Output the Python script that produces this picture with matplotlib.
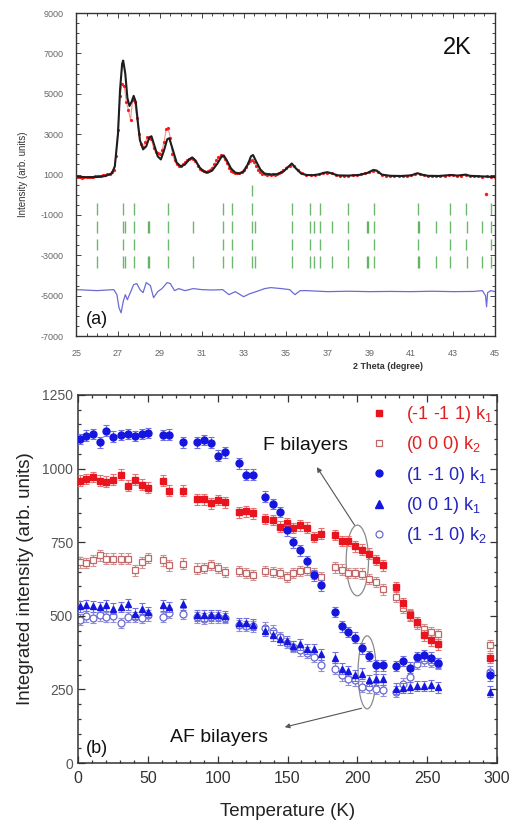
import numpy as np
import matplotlib.pyplot as plt
from matplotlib.lines import Line2D
from matplotlib.patches import Ellipse
from matplotlib.ticker import MultipleLocator

plt.rcParams['font.family'] = ['Liberation Sans', 'DejaVu Sans']
plt.rcParams['mathtext.fontset'] = 'custom'
plt.rcParams['mathtext.rm'] = 'Liberation Sans'
plt.rcParams['axes.unicode_minus'] = False

# ---------------- (a) powder pattern at 2 K ----------------
# observed intensity, 0.1 deg steps from 25.0 to 34.9
obs_fine = [
    880, 860, 870, 850, 860, 870, 880, 880, 900, 920,
    910, 940, 950, 980, 1000, 1010, 1050, 1120, 1250, 1900,
    3200, 4900, 5500, 5400, 4600, 4200, 3700, 4700, 4600, 3800,
    3000, 2500, 2350, 2600, 2850, 2800, 2750, 2300, 2100, 2050,
    2000, 2200, 2600, 3250, 3300, 2800, 2000, 1700, 1500, 1450,
    1450, 1500, 1600, 1700, 1750, 1800, 1780, 1650, 1450, 1300,
    1220, 1180, 1150, 1180, 1250, 1350, 1500, 1700, 1850, 1950,
    1900, 1750, 1550, 1350, 1200, 1150, 1100, 1080, 1100, 1150,
    1250, 1400, 1550, 1650, 1700, 1600, 1450, 1250, 1120, 1050,
    1030, 1000, 1010, 990, 1010, 1000, 1030, 1080, 1150, 1250,
]
# observed intensity, 0.2 deg steps from 35.0 to 45.0
obs_coarse = [
    1350, 1450, 1420, 1250, 1080, 1000, 960, 980, 1020, 1060,
    1100, 1060, 980, 940, 930, 950, 960, 980, 1010, 1060,
    1120, 1180, 1120, 1000, 950, 930, 920, 940, 930, 950,
    980, 1040, 1020, 960, 930, 920, 940, 920, 930, 960,
    970, 940, 950, 980, 940, 920, 930, 900, 920, 880,
    860,
]
tth_fine = 25.0 + 0.1 * np.arange(len(obs_fine))
tth_coarse = 35.0 + 0.2 * np.arange(len(obs_coarse))
outlier_tth = [44.55]
outlier_int = [50]

# calculated profile
calc_tth = [25.0, 25.5, 26.0, 26.4, 26.7, 26.85, 27.0, 27.1, 27.2, 27.25, 27.35, 27.45,
            27.55, 27.65, 27.75, 27.85, 27.95, 28.05, 28.2, 28.35, 28.5, 28.6, 28.75,
            28.9, 29.05, 29.2, 29.35, 29.45, 29.6, 29.8, 30.0, 30.2, 30.4, 30.55, 30.7,
            30.9, 31.1, 31.3, 31.5, 31.75, 31.95, 32.05, 32.2, 32.4, 32.6, 32.8, 33.0,
            33.2, 33.35, 33.45, 33.6, 33.8, 34.0, 34.3, 34.6, 34.9, 35.15, 35.3, 35.5,
            35.75, 36.0, 36.3, 36.6, 36.8, 37.0, 37.2, 37.5, 38.0, 38.5, 38.9, 39.2,
            39.35, 39.6, 40.0, 40.5, 41.0, 41.3, 41.5, 41.8, 42.3, 42.9, 43.2, 43.6,
            43.8, 44.2, 44.6, 45.0]
calc_int = [900, 870, 880, 930, 1050, 1400, 3000, 5200, 6500, 6650, 6000, 4800,
            4400, 4600, 4900, 4600, 3600, 2700, 2250, 2400, 2850, 2900, 2400,
            1900, 1750, 2200, 2750, 2800, 2300, 1600, 1400, 1500, 1750, 1850, 1700,
            1350, 1150, 1100, 1200, 1550, 1900, 1950, 1700, 1300, 1100, 1050, 1150,
            1500, 1900, 1970, 1650, 1250, 1050, 1000, 1020, 1150, 1400, 1550, 1300,
            1050, 980, 970, 1010, 1080, 1120, 1060, 960, 950, 980, 1080, 1230,
            1200, 1000, 940, 930, 960, 1070, 1000, 940, 930, 980, 950, 1000,
            940, 920, 900, 880]

# difference curve
diff_tth = [25.0, 26.0, 26.8, 26.95, 27.05, 27.15, 27.25, 27.35, 27.45, 27.55, 27.75,
            27.9, 28.05, 28.2, 28.35, 28.55, 28.7, 28.9, 29.1, 29.35, 29.5, 29.7,
            29.9, 30.2, 30.6, 31.0, 31.5, 32.0, 32.3, 32.6, 33.0, 33.3, 33.6, 34.0,
            34.3, 34.8, 35.2, 35.45, 35.7, 36.0, 37.0, 38.0, 39.0, 40.0, 41.0, 42.0,
            43.0, 44.0, 44.4, 44.55, 44.6, 44.65, 44.8, 45.0]
diff_int = [-4700, -4750, -4700, -4950, -5600, -5850, -5300, -4950, -5200, -4950, -4450,
            -4400, -4700, -4850, -4350, -4500, -5100, -4800, -4650, -4350, -4400, -4750,
            -4650, -4750, -4650, -4700, -4720, -4700, -4950, -4800, -5050, -4900, -4800, -4650,
            -4600, -4650, -4700, -4950, -4750, -4750, -4800, -4780, -4800, -4790, -4800, -4780,
            -4800, -4790, -4750, -5000, -5550, -4850, -4750, -4800]

# Bragg reflection positions for the two magnetic/nuclear phases
bragg_a = [26.02, 27.23, 27.75, 29.41, 32.0, 32.46, 33.42, 35.32, 36.18, 36.66,
           37.97, 39.22, 41.34, 42.87, 43.62, 44.8]
bragg_b = [26.02, 27.23, 27.35, 27.75, 28.42, 28.5, 29.41, 30.57, 32.0, 32.46, 33.42,
           33.53, 35.32, 36.18, 36.34, 36.66, 37.23, 37.97, 38.87, 38.95, 39.22, 41.32,
           41.38, 42.17, 42.87, 43.66, 44.39, 44.8]
bragg_top = [33.42]
bragg_rows = [200, -700, -1600, -2450, -3330]

# ---------------- (b) integrated intensities ----------------
temp = [1.5, 5.5, 10.5, 15.5, 20, 25, 30.5, 35.5, 40.5, 45.5, 50, 60.5, 65.5, 75.5,
        85, 90, 95.5, 100.5, 105, 115, 120, 125, 134, 139.5, 144.5, 149.5, 154, 159,
        164, 169, 174, 184, 189, 193.5, 198.5, 203.5, 208.5, 213.5, 218.5, 228, 233,
        238, 243, 248, 253, 258, 295]
red_k1 = [959, 965, 971, 959, 956, 962, 979, 942, 962, 945, 935, 959, 925, 925,
          896, 896, 882, 893, 885, 851, 855, 848, 829, 826, 803, 815, 798, 807,
          799, 767, 779, 775, 754, 754, 736, 725, 711, 690, 671, 598, 543,
          502, 479, 434, 417, 403, 357]
zero_k2 = [682, 679, 688, 705, 694, 694, 694, 694, 654, 682, 697, 688, 671, 677,
           660, 662, 673, 663, 649, 652, 645, 639, 652, 649, 645, 632, 645, 652,
           657, 643, 632, 665, 657, 645, 645, 643, 625, 615, 590, 565, 528,
           505, 472, 455, 445, 438, 400]
blue_k1 = [1101, 1112, 1118, 1089, 1129, 1108, 1114, 1118, 1111, 1118, 1121, 1114, 1115, 1089,
           1089, 1097, 1088, 1044, 1055, 1018, 979, 979, 905, 880, 852, 790, 750, 722,
           685, 637, 603, 513, 464, 445, 426, 389, 363, 332, 332, 329, 347,
           324, 360, 366, 358, 340, 298]
tri_k1 = [532, 536, 532, 530, 536, 524, 530, 539, 507, 524, 513, 536, 530, 539,
          502, 502, 502, 502, 498, 476, 474, 470, 448, 434, 420, 414, 397, 403,
          387, 387, 369, 358, 321, 313, 298, 304, 281, 284, 284, 253, 255,
          257, 261, 261, 264, 257, 242]
open_k2 = [487, 498, 494, 502, 496, 498, 476, 496, 496, 494, 502, 496, 509, 507,
           495, 490, 495, 495, 492, 468, 466, 464, 460, 450, 428, 408, 395, 383,
           375, 360, 332, 321, 298, 284, 281, 259, 257, 253, 247, 242, 270,
           293, 338, 349, 343, 338, 310]
labels = ['(-1 -1 1) k$_1$', '(0 0 0) k$_2$', '(1 -1 0) k$_1$', '(0 0 1) k$_1$', '(1 -1 0) k$_2$']

fig = plt.figure(figsize=(5.21, 8.21), dpi=100)

# ---- panel (a)
ax1 = fig.add_axes([0.146, 0.5907, 0.804, 0.3933])
for i, y0 in enumerate(bragg_rows):
    pos = bragg_top if i == 0 else (bragg_a if i % 2 == 1 else bragg_b)
    ax1.vlines(pos, y0 - 280, y0 + 280, color='#2e9a2e', lw=1.0, alpha=0.7)
# faint trace under the observed points so the scan reads as a dense band
ax1.plot(tth_fine, obs_fine, color='#ff4040', lw=0.8, alpha=0.6)
ax1.plot(tth_coarse, obs_coarse, color='#ff4040', lw=0.8, alpha=0.6)
ax1.plot(tth_fine, obs_fine, 'o', color='#ff1a1a', ms=2.3, mew=0)
ax1.plot(tth_coarse, obs_coarse, 'o', color='#ff1a1a', ms=2.3, mew=0)
ax1.plot(outlier_tth, outlier_int, 'o', color='#ff1a1a', ms=2.5, mew=0)
ax1.plot(calc_tth, calc_int, color='#1e1e1e', lw=1.5)
ax1.plot(diff_tth, diff_int, color='#6b6bd8', lw=0.9)
ax1.set_xlim(25, 45)
ax1.set_ylim(-7000, 9000)
ax1.xaxis.set_major_locator(MultipleLocator(2, offset=1))
ax1.xaxis.set_minor_locator(MultipleLocator(0.5))
ax1.yaxis.set_major_locator(MultipleLocator(2000, offset=1000))
ax1.yaxis.set_minor_locator(MultipleLocator(500))
ax1.tick_params(which='both', direction='in', top=True, right=True, labelsize=6.5,
                labelcolor='#666666', color='#444444', width=0.7)
ax1.tick_params(which='major', length=3.5)
ax1.tick_params(which='minor', length=2)
ax1.tick_params(axis='x', pad=9)
ax1.tick_params(axis='y', pad=9)
for s in ax1.spines.values():
    s.set_color('#333333')
    s.set_linewidth(1.0)
ax1.set_ylabel('Intensity (arb. units)', fontsize=7, color='#333333', labelpad=9)
ax1.text(0.745, -0.095, '2 Theta (degree)', transform=ax1.transAxes, ha='center',
         va='center', fontsize=6.5, fontweight='bold', color='#333333')
ax1.text(43.2, 7250, '2K', fontsize=17, ha='center', va='center', color='#111111')
ax1.text(26.0, -6200, '(a)', fontsize=13, ha='center', va='center', color='#111111')

# ---- panel (b)
ax2 = fig.add_axes([0.1497, 0.0706, 0.8043, 0.4483])
series = [
    (red_k1, dict(marker='s', color='#e8141e', mfc='#e8141e', mec='#e8141e', ms=4.3), '#e87070', 3),
    (zero_k2, dict(marker='s', color='#c06868', mfc='white', mec='#c06868', ms=4.3, mew=0.9), '#d09090', 2),
    (blue_k1, dict(marker='o', color='#1515e0', mfc='#1515e0', mec='#1515e0', ms=5), '#7070e0', 4),
    (open_k2, dict(marker='o', color='#6a6ad0', mfc='white', mec='#6a6ad0', ms=5, mew=0.9), '#9090d8', 1),
    (tri_k1, dict(marker='^', color='#1515e0', mfc='#1515e0', mec='#1515e0', ms=5), '#7070e0', 5),
]
for vals, style, ecol, z in series:
    ax2.errorbar(temp, vals, yerr=18, fmt='none', ecolor=ecol, elinewidth=0.8,
                 capsize=2, capthick=0.8, zorder=z)
    ax2.plot(temp, vals, ls='none', zorder=z + 0.5, **style)

handles = [
    Line2D([], [], ls='none', marker='s', mfc='#e8141e', mec='#e8141e', ms=4.5),
    Line2D([], [], ls='none', marker='s', mfc='white', mec='#c06868', ms=4.5, mew=0.9),
    Line2D([], [], ls='none', marker='o', mfc='#1515e0', mec='#1515e0', ms=5),
    Line2D([], [], ls='none', marker='^', mfc='#1515e0', mec='#1515e0', ms=5.5),
    Line2D([], [], ls='none', marker='o', mfc='white', mec='#6a6ad0', ms=5, mew=0.9),
]
ax2.legend(handles, labels, loc='upper right', bbox_to_anchor=(1.028, 1.02),
           frameon=False, fontsize=13, handlelength=1.0, handletextpad=1.0,
           labelspacing=0.52,
           labelcolor=['#e02020', '#e02020', '#2424c0', '#2424c0', '#2424c0'])

ax2.add_patch(Ellipse((200, 688), 16, 240, fill=False, ec='#8a8a8a', lw=0.9))
ax2.add_patch(Ellipse((207, 308), 13, 248, fill=False, ec='#8a8a8a', lw=0.9))
ax2.annotate('', xy=(171, 1005), xytext=(198, 808),
             arrowprops=dict(arrowstyle='-|>', color='#555555', lw=0.8,
                             mutation_scale=7, shrinkA=0, shrinkB=0))
ax2.annotate('', xy=(148, 122), xytext=(203, 186),
             arrowprops=dict(arrowstyle='-|>', color='#555555', lw=0.8,
                             mutation_scale=7, shrinkA=0, shrinkB=0))
ax2.text(163, 1078, 'F bilayers', fontsize=14, ha='center', va='center', color='#111111')
ax2.text(101, 88, 'AF bilayers', fontsize=14, ha='center', va='center', color='#111111')
ax2.text(13.5, 51, '(b)', fontsize=13, ha='center', va='center', color='#111111')

ax2.set_xlim(0, 300)
ax2.set_ylim(0, 1250)
ax2.xaxis.set_major_locator(MultipleLocator(50))
ax2.xaxis.set_minor_locator(MultipleLocator(10))
ax2.yaxis.set_major_locator(MultipleLocator(250))
ax2.yaxis.set_minor_locator(MultipleLocator(50))
ax2.tick_params(which='both', direction='in', top=True, right=True, color='#333333', width=0.9)
ax2.tick_params(which='major', length=5)
ax2.tick_params(which='minor', length=2.5)
ax2.tick_params(axis='x', labelsize=11.5, labelcolor='#333333', pad=6)
ax2.tick_params(axis='y', labelsize=10, labelcolor='#555555')
for s in ax2.spines.values():
    s.set_color('#333333')
    s.set_linewidth(1.1)
ax2.set_xlabel('Temperature (K)', fontsize=13.5, color='#222222', labelpad=12)
ax2.set_ylabel('Integrated intensity (arb. units)', fontsize=13.5, color='#222222', labelpad=6)

fig.savefig('out.png', dpi=100)
